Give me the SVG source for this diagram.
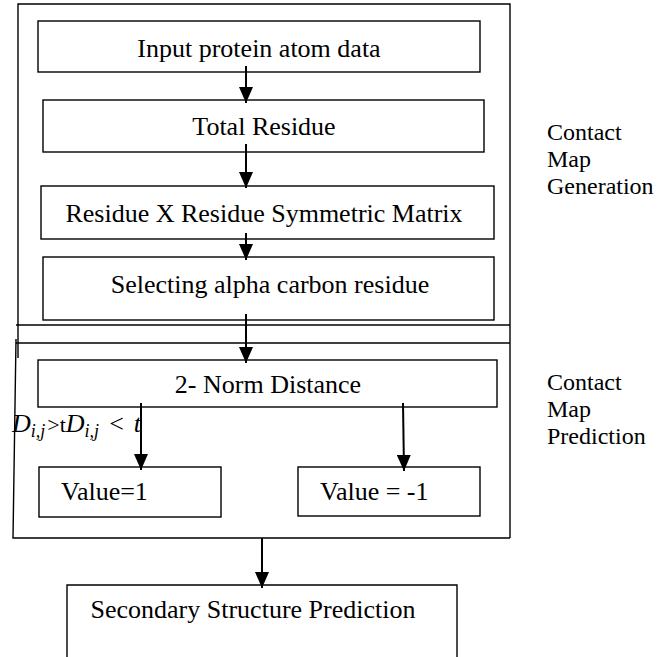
<svg xmlns="http://www.w3.org/2000/svg" width="667" height="657" viewBox="0 0 667 657">
<defs>
<style>
.box{fill:#fff;stroke:#000;stroke-width:1.4}
.frame{fill:none;stroke:#000;stroke-width:1.4}
.arr{stroke:#000;stroke-width:2;fill:none;marker-end:url(#ah)}
</style>
<marker id="ah" markerUnits="userSpaceOnUse" markerWidth="16" markerHeight="14" refX="16" refY="7" orient="auto">
<path d="M0,0 L16,7 L0,14 z" fill="#000"/>
</marker>
</defs>
<rect width="667" height="657" fill="#fff"/>
<g id="frames">
<path class="frame" d="M18,358 L18,4 L510,4 L510,538"/>
<path class="frame" d="M16,325 L510,325"/>
<path class="frame" d="M16,343 L510,343"/>
<path class="frame" d="M16,339 L13,538 L510,538"/>
</g>
<g id="n1"><rect class="box" x="38" y="21" width="442" height="51"/><text font-family="Liberation Serif" font-size="26" x="259" y="57" text-anchor="middle">Input protein atom data</text></g>
<g id="n2"><rect class="box" x="43" y="100" width="441" height="52"/><text font-family="Liberation Serif" font-size="26" x="264" y="135" text-anchor="middle">Total Residue</text></g>
<g id="n3"><rect class="box" x="41" y="186" width="453" height="53"/><text font-family="Liberation Serif" font-size="26" x="264" y="222" text-anchor="middle">Residue X Residue Symmetric Matrix</text></g>
<g id="n4"><rect class="box" x="43" y="257" width="451" height="63"/><text font-family="Liberation Serif" font-size="26" x="270" y="293" text-anchor="middle">Selecting alpha carbon residue</text></g>
<g id="n5"><rect class="box" x="38" y="360" width="459" height="47"/><text font-family="Liberation Serif" font-size="26" x="268" y="393" text-anchor="middle">2- Norm Distance</text></g>
<g id="n6"><rect class="box" x="39" y="467" width="182" height="50"/><text font-family="Liberation Serif" font-size="26" x="61" y="500">Value=1</text></g>
<g id="n7"><rect class="box" x="298" y="467" width="182" height="49"/><text font-family="Liberation Serif" font-size="26" x="320" y="500">Value = -1</text></g>
<g id="n8"><path class="box" d="M67,660 L67,585 L457,585 L457,660"/><text font-family="Liberation Serif" font-size="26" x="253" y="618" text-anchor="middle">Secondary Structure Prediction</text></g>
<g id="labels">
<text font-family="Liberation Serif" font-size="24" x="547" y="140">Contact</text>
<text font-family="Liberation Serif" font-size="24" x="547" y="167">Map</text>
<text font-family="Liberation Serif" font-size="24" x="547" y="194">Generation</text>
<text font-family="Liberation Serif" font-size="24" x="547" y="390">Contact</text>
<text font-family="Liberation Serif" font-size="24" x="547" y="417">Map</text>
<text font-family="Liberation Serif" font-size="24" x="547" y="444">Prediction</text>
<text font-family="Liberation Serif" x="12" y="432" font-size="26"><tspan font-style="italic">D</tspan><tspan font-style="italic" font-size="18" dy="5">i,j</tspan><tspan font-size="22" dy="-5" dx="2">&gt;t</tspan><tspan font-style="italic">D</tspan><tspan font-style="italic" font-size="18" dy="5">i,j</tspan><tspan dy="-5" dx="10">&lt;</tspan><tspan font-style="italic" dx="10">t</tspan></text>
</g>
<g id="connectors">
<line class="arr" x1="246" y1="66" x2="246" y2="103"/>
<line class="arr" x1="246" y1="144" x2="246" y2="188"/>
<line class="arr" x1="246" y1="233" x2="246" y2="260"/>
<line class="arr" x1="246" y1="314" x2="246" y2="363"/>
<line class="arr" x1="141" y1="403" x2="141" y2="470"/>
<line class="arr" x1="403" y1="403" x2="404" y2="471"/>
<line class="arr" x1="262" y1="538" x2="262" y2="588"/>
</g>
</svg>
